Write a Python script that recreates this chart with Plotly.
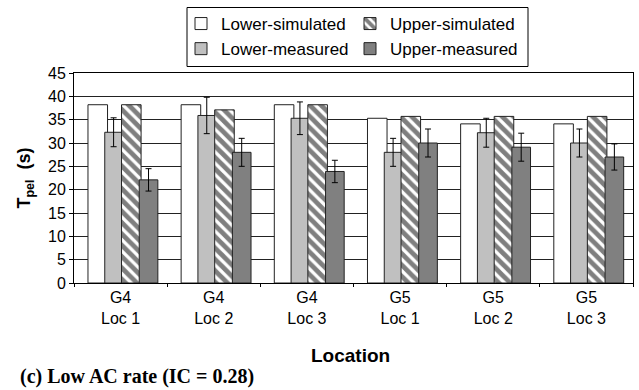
import plotly.graph_objects as go

categories = ["G4<br>Loc 1", "G4<br>Loc 2", "G4<br>Loc 3", "G5<br>Loc 1", "G5<br>Loc 2", "G5<br>Loc 3"]
lower_sim = [38.2, 38.2, 38.2, 35.3, 34.1, 34.1]
lower_meas = [32.3, 35.9, 35.3, 28.0, 32.2, 30.0]
lower_meas_err = [3.1, 3.9, 3.5, 3.0, 3.1, 3.0]
upper_sim = [38.2, 37.1, 38.2, 35.7, 35.7, 35.7]
upper_meas = [22.1, 28.0, 23.9, 30.0, 29.1, 27.0]
upper_meas_err = [2.4, 3.0, 2.4, 3.0, 3.0, 2.8]
y_ticks = [0, 5, 10, 15, 20, 25, 30, 35, 40, 45]

SANS = "Liberation Sans"
SERIF = "Liberation Serif"
outline = dict(color="#222222", width=1)

fig = go.Figure()
fig.add_trace(go.Bar(
    x=categories, y=lower_sim, name="Lower-simulated",
    marker=dict(color="white", line=outline),
    offset=-0.35, width=0.21, legend="legend", legendrank=1))
fig.add_trace(go.Bar(
    x=categories, y=lower_meas, name="Lower-measured",
    marker=dict(color="#c0c0c0", line=outline),
    error_y=dict(type="data", array=lower_meas_err, color="black", thickness=1, width=3),
    offset=-0.17, width=0.19, legend="legend", legendrank=2))
fig.add_trace(go.Bar(
    x=categories, y=upper_sim, name="Upper-simulated",
    marker=dict(color="white", line=outline,
                pattern=dict(shape="\\", fgcolor="black", bgcolor="white", size=8, solidity=0.6)),
    offset=0.01, width=0.21, legend="legend2", legendrank=1))
fig.add_trace(go.Bar(
    x=categories, y=upper_meas, name="Upper-measured",
    marker=dict(color="#808080", line=outline),
    error_y=dict(type="data", array=upper_meas_err, color="black", thickness=1, width=3),
    offset=0.2, width=0.2, legend="legend2", legendrank=2))

W, H = 639, 390
ml, mr, mt, mb = 74, 6, 73, 107
pw, ph = W - ml - mr, H - mt - mb

def px_x(p):
    return (p - ml) / pw

def px_y(p):
    return (H - mb - p) / ph

legend_common = dict(
    orientation="v", bgcolor="rgba(0,0,0,0)", borderwidth=0,
    font=dict(family=SANS, size=17, color="black"),
    xanchor="left", yanchor="top", tracegroupgap=3,
    itemclick=False, itemdoubleclick=False,
)

fig.update_layout(
    width=W, height=H,
    margin=dict(l=ml, r=mr, t=mt, b=mb, pad=0),
    paper_bgcolor="white", plot_bgcolor="white",
    barmode="overlay",
    font=dict(family=SANS, size=16, color="black"),
    legend=dict(x=px_x(181), y=px_y(6), **legend_common),
    legend2=dict(x=px_x(350), y=px_y(6), **legend_common),
    xaxis=dict(
        type="category", showline=True, linecolor="black", linewidth=1, mirror=True,
        ticks="outside", ticklen=3, tickcolor="black", tickson="boundaries",
        showgrid=False, tickfont=dict(family=SANS, size=16),
    ),
    yaxis=dict(
        range=[0, 45], tickvals=y_ticks, ticks="outside", ticklen=4, tickcolor="black",
        showline=True, linecolor="black", linewidth=1, mirror=True,
        showgrid=True, gridcolor="#222222", gridwidth=1, zeroline=False,
        tickfont=dict(family=SANS, size=16),
        title=dict(text="<b>T<sub>pel</sub>  (s)</b>", font=dict(family=SANS, size=18), standoff=12),
    ),
    shapes=[dict(type="rect", xref="paper", yref="paper",
                 x0=px_x(187), x1=px_x(528), y0=px_y(66.5), y1=px_y(7.5),
                 line=dict(color="black", width=1), fillcolor="rgba(0,0,0,0)")],
    annotations=[
        dict(text="<b>Location</b>", xref="paper", yref="paper",
             x=px_x(350), y=px_y(355), xanchor="center", yanchor="middle",
             showarrow=False, font=dict(family=SANS, size=19)),
        dict(text="<b>(c) Low AC rate (IC = 0.28)</b>", xref="paper", yref="paper",
             x=px_x(18), y=px_y(376), xanchor="left", yanchor="middle",
             showarrow=False, font=dict(family=SERIF, size=20)),
    ],
)

fig.write_html("out.html")
